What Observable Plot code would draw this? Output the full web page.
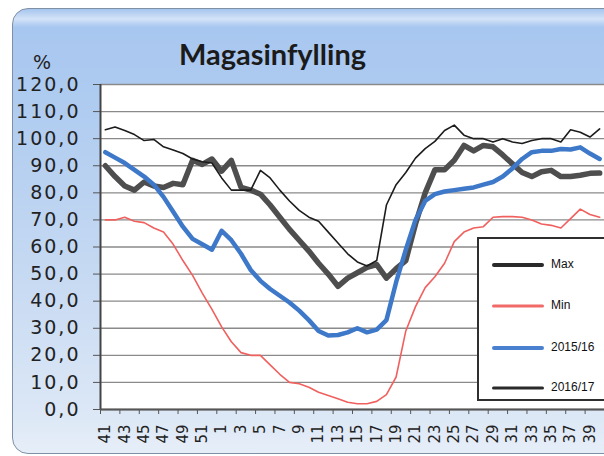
<!DOCTYPE html>
<html>
<head>
<meta charset="utf-8">
<script src="https://cdn.jsdelivr.net/npm/d3@7"></script>
<script src="https://cdn.jsdelivr.net/npm/@observablehq/plot@0.6"></script>
<style>
  html, body { margin: 0; padding: 0; background: #fff; width: 604px; height: 456px; overflow: hidden; }
  #box {
    position: absolute; left: 12px; top: 8px; width: 612px; height: 444px;
    border: 1px solid #7f90a6; border-radius: 16px;
    background: linear-gradient(to bottom, #a6c5ee 0px, #d4e3f7 10px, #a8c7f0 18px, #aecbf0 90px, #c4d8f2 250px, #dbe7f6 400px, #e6eef8 444px);
  }
  #chart { position: absolute; left: 0; top: 0; }
  #title { position: absolute; left: 0; width: 545px; top: 36px; text-align: center;
    font-family: Lato, sans-serif; font-weight: 700; font-size: 29px; color: #1b1b1b; }
  #pct { position: absolute; left: 33px; top: 51px; font-family: "DejaVu Sans", sans-serif; font-size: 19px; color: #222; }
  #legend { position: absolute; left: 477px; top: 237px; width: 140px; height: 164px;
    background: #fff; border: 2px solid #2f2f2f; box-sizing: border-box; }
  .item { position: absolute; left: 13px; height: 14px; }
  .item span.sw { position: absolute; left: 0; width: 52px; top: 50%; transform: translateY(-50%); border-radius: 2px; }
  .item span.lb { position: absolute; left: 59px; top: -1px; font-family: "Liberation Sans", Arial, sans-serif; font-size: 12px; color: #111; white-space: nowrap; }
  #chart svg g[aria-label="y-axis tick label"] text { letter-spacing: 2px; }
</style>
</head>
<body>
<div id="box"></div>
<div id="chart"></div>
<div id="title">Magasinfylling</div>
<div id="pct">%</div>
<div id="legend"></div>
<script>
const weeks = [41,42,43,44,45,46,47,48,49,50,51,52,1,2,3,4,5,6,7,8,9,10,11,12,13,14,15,16,17,18,19,20,21,22,23,24,25,26,27,28,29,30,31,32,33,34,35,36,37,38,39,40];
const tickWeeks = [41,43,45,47,49,51,1,3,5,7,9,11,13,15,17,19,21,23,25,27,29,31,33,35,37,39];
const yTicks = [0,10,20,30,40,50,60,70,80,90,100,110,120];

const seriesNames = ["Max", "Min", "2015/16", "2016/17"];

const maxVals = [90,86,82.5,81,84,82.5,82,83.5,83,92,90.5,92.5,88,92,82,81,79.5,75.5,71,66.5,62.5,58.5,54,50,45.5,48.5,50.5,52.5,53.5,48.5,52,55,68.5,80,88.5,88.5,92,97.5,95.5,97.5,97,94,90.7,87.5,86,87.8,88.3,86,86,86.5,87.2,87.3];
const minVals = [70,70,71,69.5,69,67,65.5,61,55,49.5,43,37,30.5,25,21,20,20,16.5,13,10,9.5,8.2,6.4,5.2,4,2.7,2.1,2.1,3,5.5,12,29,38,45,49,54,62,65.5,67,67.5,71,71.2,71.2,71,70,68.5,68,67,70.5,74,72,71];
const s1516 = [95,93,91,88.5,86,83,78.5,73,67.5,63,61,59,66,62.5,57.5,51.5,47.5,44.5,42,39.5,36.5,33,29,27.3,27.5,28.5,30,28.5,29.5,33,47,59,70,77,79.5,80.5,81,81.5,82,83,84,86,89,92.5,95,95.5,95.5,96.2,96,96.8,94.5,92.5];
const s1617 = [103.3,104.3,103,101.5,99.3,99.7,97,95.8,94.5,92.5,91.5,91,85.5,81,81,81,88.3,85.5,81,77,73.5,71,69.5,65.5,61.5,57.5,54.5,53,55,75.5,83,87.5,92.8,96.3,99,103,105,101.3,100,100,98.8,100,98.8,98.2,99.3,100,100,98.8,103.3,102.4,100.6,103.6];

const seriesData = [maxVals, minVals, s1516, s1617];
const lineStyle = [
  {stroke: "#4e4e4e", strokeWidth: 5.5},
  {stroke: "#f0605e", strokeWidth: 1.6},
  {stroke: "#3e78c8", strokeWidth: 4.5},
  {stroke: "#1c1c1c", strokeWidth: 1.6}
];
const legendStyle = [
  {color: "#2a2a2a", h: 4},
  {color: "#f26a68", h: 3},
  {color: "#4a80d0", h: 4},
  {color: "#2a2a2a", h: 3}
];

const xDomain = [-0.5, weeks.length - 0.5];
const tickIdx = tickWeeks.map(w => weeks.indexOf(w));
const tickBounds = tickIdx.map(i => i - 0.5);

const fmt = d => d.toFixed(1).replace(".", ",");

const lines = seriesData.map((vals, k) =>
  Plot.line(vals.map((v, i) => ({i, v, s: seriesNames[k]})), {x: "i", y: "v", ...lineStyle[k], strokeLinejoin: "round", strokeLinecap: "round"})
);

const chart = Plot.plot({
  width: 604,
  height: 456,
  marginLeft: 100,
  marginRight: 0,
  marginTop: 84,
  marginBottom: 47,
  style: {background: "transparent", fontFamily: "DejaVu Sans, sans-serif", color: "#222", overflow: "visible"},
  x: {domain: xDomain, label: null},
  y: {domain: [0, 120], label: null},
  marks: [
    Plot.frame({fill: "white", stroke: null}),
    Plot.gridY(yTicks, {stroke: "#8a8a8a", strokeOpacity: 1, strokeWidth: 1.4}),
    Plot.axisY(yTicks, {label: null, tickSize: 7, tickPadding: 13, tickFormat: fmt, fontSize: 19, stroke: "#555", fill: "#222"}),
    Plot.axisX(tickIdx, {label: null, tickSize: 0, tickPadding: 15, tickRotate: -90, tickFormat: i => weeks[i], fontSize: 15, fill: "#222"}),
    Plot.axisX(tickBounds, {label: null, tickSize: 5, tickFormat: () => "", stroke: "#555"}),
    ...lines,
    Plot.ruleX([xDomain[0]], {stroke: "#444", strokeWidth: 2}),
    Plot.ruleY([0], {stroke: "#555", strokeWidth: 2})
  ]
});
document.getElementById("chart").appendChild(chart);

const legend = document.getElementById("legend");
const legendTops = [19, 60, 102, 142];
seriesNames.forEach((name, k) => {
  const it = document.createElement("div");
  it.className = "item";
  it.style.top = legendTops[k] + "px";
  it.innerHTML = `<span class="sw" style="background:${legendStyle[k].color};height:${legendStyle[k].h}px"></span><span class="lb">${name}</span>`;
  legend.appendChild(it);
});
</script>
</body>
</html>
